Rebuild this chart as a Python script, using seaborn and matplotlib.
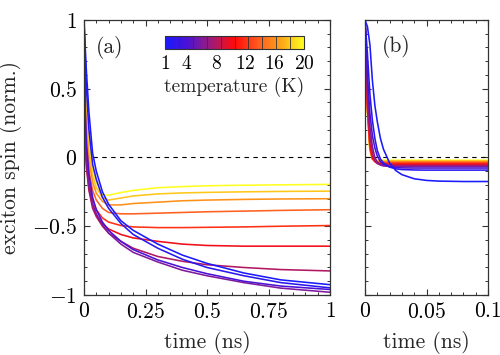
import numpy as np
import pandas as pd
import matplotlib
matplotlib.use("Agg")
import matplotlib.pyplot as plt
import matplotlib.colors as mcolors
from matplotlib.ticker import MultipleLocator, FuncFormatter
import seaborn as sns

# ── Data ──────────────────────────────────────────────────────────
temps = [1, 2, 4, 6, 8, 10, 12, 14, 16, 18, 20]          # K

# panel (a): long time window, ns
time_a = [0, 0.005, 0.01, 0.02, 0.035, 0.05, 0.075, 0.1, 0.15, 0.2,
          0.3, 0.4, 0.5, 0.65, 0.8, 1.0]
spin_a = [
    [1, 0.80, 0.62, 0.33, 0.03, -0.10, -0.25, -0.34, -0.46, -0.53, -0.63, -0.71, -0.77, -0.84, -0.89, -0.925],
    [1, 0.72, 0.50, 0.20, -0.05, -0.16, -0.29, -0.37, -0.48, -0.56, -0.66, -0.74, -0.80, -0.86, -0.91, -0.948],
    [1, 0.35, 0.10, -0.12, -0.29, -0.38, -0.47, -0.53, -0.61, -0.67, -0.745, -0.80, -0.845, -0.90, -0.935, -0.96],
    [1, 0.20, -0.02, -0.20, -0.34, -0.41, -0.49, -0.55, -0.63, -0.69, -0.76, -0.82, -0.86, -0.91, -0.95, -0.98],
    [1, 0.10, -0.08, -0.24, -0.37, -0.43, -0.50, -0.55, -0.61, -0.66, -0.72, -0.755, -0.78, -0.80, -0.815, -0.825],
    [1, 0.15, -0.05, -0.22, -0.35, -0.42, -0.48, -0.52, -0.56, -0.585, -0.61, -0.63, -0.64, -0.645, -0.645, -0.645],
    [1, 0.20, 0.00, -0.18, -0.31, -0.38, -0.44, -0.47, -0.495, -0.505, -0.51, -0.51, -0.508, -0.505, -0.50, -0.495],
    [1, 0.30, 0.10, -0.10, -0.24, -0.31, -0.37, -0.40, -0.41, -0.41, -0.405, -0.40, -0.395, -0.39, -0.385, -0.38],
    [1, 0.40, 0.20, -0.02, -0.18, -0.26, -0.32, -0.345, -0.345, -0.335, -0.325, -0.315, -0.31, -0.305, -0.302, -0.30],
    [1, 0.50, 0.30, 0.05, -0.13, -0.22, -0.29, -0.31, -0.295, -0.28, -0.265, -0.258, -0.254, -0.25, -0.247, -0.245],
    [1, 0.60, 0.40, 0.12, -0.08, -0.18, -0.27, -0.275, -0.255, -0.24, -0.22, -0.212, -0.206, -0.202, -0.199, -0.196],
]

# panel (b): short time window, ns
time_b = [0, 0.002, 0.004, 0.006, 0.008, 0.01, 0.0125, 0.015, 0.02, 0.025,
          0.03, 0.04, 0.05, 0.06, 0.08, 0.1]
spin_b = [
    [1, 0.95, 0.82, 0.56, 0.38, 0.26, 0.14, 0.06, -0.04, -0.095, -0.125, -0.155, -0.167, -0.172, -0.175, -0.175],
    [1, 0.75, 0.46, 0.27, 0.14, 0.05, -0.01, -0.04, -0.07, -0.083, -0.088, -0.091, -0.092, -0.092, -0.092, -0.092],
    [1, 0.60, 0.32, 0.16, 0.07, 0.01, -0.03, -0.05, -0.068, -0.074, -0.076, -0.077, -0.077, -0.077, -0.077, -0.077],
    [1, 0.50, 0.22, 0.08, 0.00, -0.035, -0.055, -0.062, -0.065, -0.066, -0.066, -0.066, -0.066, -0.066, -0.066, -0.066],
    [1, 0.42, 0.15, 0.03, -0.025, -0.045, -0.053, -0.056, -0.058, -0.058, -0.058, -0.058, -0.058, -0.058, -0.058, -0.058],
    [1, 0.38, 0.10, 0.00, -0.03, -0.042, -0.047, -0.048, -0.049, -0.05, -0.05, -0.05, -0.05, -0.05, -0.05, -0.05],
    [1, 0.36, 0.08, -0.01, -0.03, -0.038, -0.041, -0.042, -0.043, -0.043, -0.043, -0.043, -0.043, -0.043, -0.043, -0.043],
    [1, 0.35, 0.07, -0.01, -0.027, -0.033, -0.035, -0.036, -0.037, -0.037, -0.037, -0.037, -0.037, -0.037, -0.037, -0.037],
    [1, 0.34, 0.06, -0.01, -0.023, -0.028, -0.03, -0.031, -0.031, -0.031, -0.031, -0.031, -0.031, -0.031, -0.031, -0.031],
    [1, 0.33, 0.05, -0.01, -0.02, -0.023, -0.025, -0.025, -0.025, -0.025, -0.025, -0.025, -0.025, -0.025, -0.025, -0.025],
    [1, 0.32, 0.04, -0.01, -0.016, -0.019, -0.02, -0.02, -0.02, -0.02, -0.02, -0.02, -0.02, -0.02, -0.02, -0.02],
]

cbar_ticks = [1, 4, 8, 12, 16, 20]

# ── Style ─────────────────────────────────────────────────────────
sns.set_theme(style="ticks")
plt.rcParams.update({
    "font.family": ["cmr10", "DejaVu Serif"],
    "mathtext.fontset": "cm",
    "axes.formatter.use_mathtext": True,
    "axes.edgecolor": "#333333",
    "axes.linewidth": 0.9,
    "xtick.direction": "in",
    "ytick.direction": "in",
    "xtick.top": True,
    "ytick.right": True,
    "xtick.color": "#333333",
    "ytick.color": "#333333",
    "xtick.labelcolor": "black",
    "ytick.labelcolor": "black",
})

FS = 15.5
cmap = mcolors.LinearSegmentedColormap.from_list("temp", [
    (0.0, "#1a1aff"), (0.158, "#4a12d4"), (0.263, "#7e1a9c"),
    (0.368, "#b01864"), (0.44, "#e0102c"), (0.50, "#ff0a0a"),
    (0.684, "#ff6020"), (0.842, "#ffa818"), (1.0, "#ffff20"),
])
norm = mcolors.Normalize(vmin=1, vmax=20)


def long_frame(times, spins):
    rows = []
    for T, ys in zip(temps, spins):
        rows.append(pd.DataFrame({"time": times, "spin": ys, "T": T}))
    return pd.concat(rows, ignore_index=True)


def fmt(v, _pos):
    return f"${v:g}$"


df_a = long_frame(time_a, spin_a)
df_b = long_frame(time_b, spin_b)

fig = plt.figure(figsize=(5.0, 3.55), dpi=100)
ax_a = fig.add_axes([0.168, 0.169, 0.492, 0.775])
ax_b = fig.add_axes([0.730, 0.169, 0.246, 0.775])

for ax, df in [(ax_a, df_a), (ax_b, df_b)]:
    ax.axhline(0, color="black", lw=0.8, ls=(0, (4, 4)), zorder=1)
    # warm curves first so the cold (blue) ones end up on top
    for T in temps[::-1]:
        sub = df[df["T"] == T]
        sns.lineplot(data=sub, x="time", y="spin", color=cmap(norm(T)),
                     lw=1.15, sort=False, estimator=None, ax=ax)
    ax.set_ylim(-1, 1)
    ax.yaxis.set_major_locator(MultipleLocator(0.5))
    ax.yaxis.set_minor_locator(MultipleLocator(0.1))
    ax.yaxis.set_major_formatter(FuncFormatter(fmt))
    ax.xaxis.set_major_formatter(FuncFormatter(fmt))
    ax.tick_params(which="major", length=4.5, width=0.8, labelsize=FS, pad=5)
    ax.tick_params(which="minor", length=2.5, width=0.7)
    ax.set_xlabel("time (ns)", fontsize=FS)
    ax.xaxis.set_label_coords(0.5, -0.13)
    for s in ax.spines.values():
        s.set_visible(True)

ax_a.set_xlim(0, 1)
ax_a.xaxis.set_major_locator(MultipleLocator(0.25))
ax_a.xaxis.set_minor_locator(MultipleLocator(0.05))
ax_a.set_ylabel("exciton spin (norm.)", fontsize=FS)
ax_a.yaxis.set_label_coords(-0.25, 0.5)
ax_a.text(0.105, 0.9, "(a)", transform=ax_a.transAxes, fontsize=FS,
          ha="center", va="center")

ax_b.set_xlim(0, 0.1)
ax_b.xaxis.set_major_locator(MultipleLocator(0.05))
ax_b.xaxis.set_minor_locator(MultipleLocator(0.01))
ax_b.set_ylabel("")
ax_b.tick_params(axis="y", labelleft=False)
ax_b.text(0.25, 0.905, "(b)", transform=ax_b.transAxes, fontsize=FS,
          ha="center", va="center")

# ── Temperature colour bar ────────────────────────────────────────
cax = fig.add_axes([0.330, 0.861, 0.278, 0.038])
sm = plt.cm.ScalarMappable(cmap=cmap, norm=norm)
cb = fig.colorbar(sm, cax=cax, orientation="horizontal", ticks=cbar_ticks)
cb.outline.set_linewidth(0.8)
cb.outline.set_edgecolor("#333333")
for b in np.linspace(1, 20, 11)[1:-1]:
    cax.axvline(b, color="#333333", lw=0.6)
cax.tick_params(length=0, labelsize=14, pad=4, top=False)
cax.xaxis.set_major_formatter(FuncFormatter(fmt))
cax.set_xlabel("temperature (K)", fontsize=14, labelpad=3)

fig.savefig("out.png", dpi=100)
